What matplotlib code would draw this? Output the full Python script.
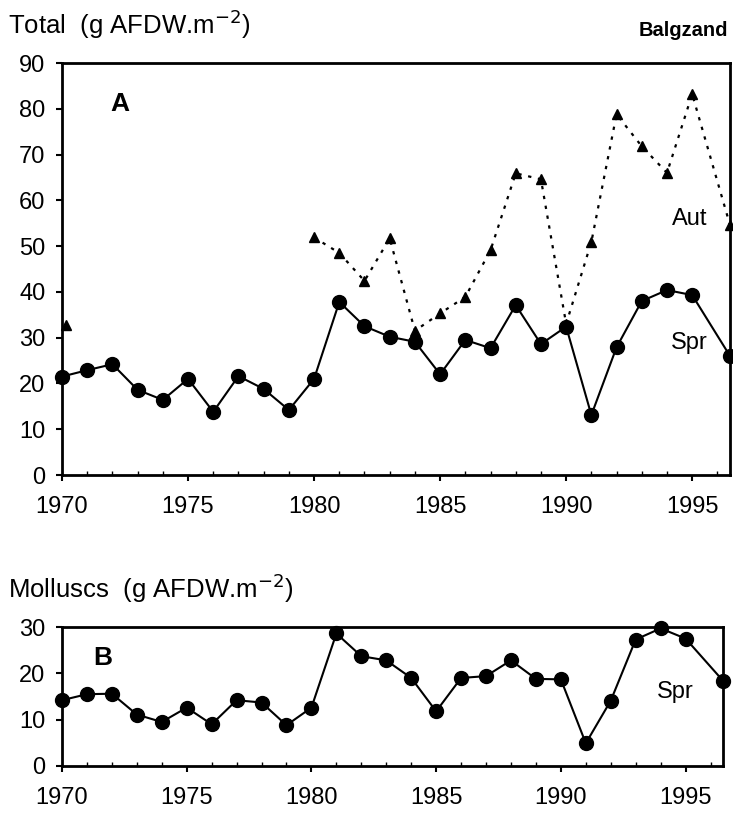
import matplotlib
matplotlib.use('Agg')
import matplotlib.pyplot as plt
from matplotlib.ticker import MultipleLocator

plt.rcParams['font.family'] = ['Liberation Sans', 'DejaVu Sans']

# Balgzand biomass, spring and autumn (g AFDW per m2)
years_spr = [1970, 1971, 1972, 1973, 1974, 1975, 1976, 1977, 1978, 1979, 1980,
             1981, 1982, 1983, 1984, 1985, 1986, 1987, 1988, 1989, 1990,
             1991, 1992, 1993, 1994, 1995, 1996.5]
total_spr = [21.5, 22.9, 24.2, 18.6, 16.4, 21.0, 13.8, 21.6, 18.8, 14.2, 21.0,
             37.8, 32.5, 30.2, 29.1, 22.0, 29.5, 27.7, 37.1, 28.6, 32.4,
             13.1, 27.9, 38.0, 40.4, 39.3, 26.0]

years_aut = [1980, 1981, 1982, 1983, 1984, 1985, 1986, 1987, 1988, 1989, 1990,
             1991, 1992, 1993, 1994, 1995, 1996.5]
total_aut = [51.9, 48.5, 42.4, 51.7, 31.5, 35.3, 38.9, 49.1, 65.9, 64.6, 33.0,
             50.9, 78.8, 71.8, 66.0, 83.2, 54.6]
aut_1970 = 32.8

molluscs_spr = [14.2, 15.5, 15.6, 11.1, 9.5, 12.6, 9.0, 14.2, 13.7, 8.8, 12.6,
                28.6, 23.7, 22.8, 19.0, 11.8, 19.0, 19.4, 22.8, 18.8, 18.7,
                4.9, 14.1, 27.3, 29.7, 27.5, 18.4]

W, H = 733, 814
fig = plt.figure(figsize=(W / 100, H / 100), dpi=100)

def px_axes(l, t, r, b):
    return fig.add_axes([l / W, 1 - b / H, (r - l) / W, (b - t) / H])

ax1 = px_axes(62, 63, 730, 475)
ax2 = px_axes(62, 627, 723, 766)

for ax in (ax1, ax2):
    ax.set_xlim(1970, 1996.5)
    ax.xaxis.set_major_locator(MultipleLocator(5))
    ax.xaxis.set_minor_locator(MultipleLocator(1))
    ax.tick_params(axis='both', which='major', labelsize=17, direction='out',
                   length=4, width=1.5)
    ax.tick_params(axis='x', which='minor', direction='in', length=3, width=1)
    ax.tick_params(axis='x', pad=11)
    ax.tick_params(axis='y', pad=8)
    for s in ax.spines.values():
        s.set_linewidth(2)

# panel A
ax1.plot(years_aut, total_aut, linestyle=(0, (1.5, 3)), color='black',
         linewidth=1.6, marker='^', markersize=7, clip_on=False)
ax1.plot([1970.15], [aut_1970], marker='^', markersize=7, color='black',
         linestyle='none', clip_on=False)
ax1.plot(years_spr, total_spr, '-', color='black', linewidth=1.5,
         marker='o', markersize=10, clip_on=False)
ax1.set_ylim(0, 90)
ax1.yaxis.set_major_locator(MultipleLocator(10))
ax1.text(0.072, 0.90, 'A', transform=ax1.transAxes, fontsize=19,
         fontweight='bold', va='center', ha='left')
ax1.text(1994.9, 56.0, 'Aut', fontsize=17, va='center', ha='center')
ax1.text(1994.9, 28.8, 'Spr', fontsize=17, va='center', ha='center')

# panel B
ax2.plot(years_spr, molluscs_spr, '-', color='black', linewidth=1.5,
         marker='o', markersize=10, clip_on=False)
ax2.set_ylim(0, 30)
ax2.yaxis.set_major_locator(MultipleLocator(10))
ax2.text(0.047, 0.78, 'B', transform=ax2.transAxes, fontsize=19,
         fontweight='bold', va='center', ha='left')
ax2.text(1994.6, 16.0, 'Spr', fontsize=17, va='center', ha='center')

fig.text(8 / W, 1 - 24 / H, 'Total  (g AFDW.m$^{-2}$)', fontsize=18.5,
         va='center', ha='left')
fig.text(728 / W, 1 - 31 / H, 'Balgzand', fontsize=14.5, fontweight='bold',
         va='center', ha='right')
fig.text(8 / W, 1 - 588 / H, 'Molluscs  (g AFDW.m$^{-2}$)', fontsize=18.5,
         va='center', ha='left')

fig.savefig('out.png', dpi=100)
